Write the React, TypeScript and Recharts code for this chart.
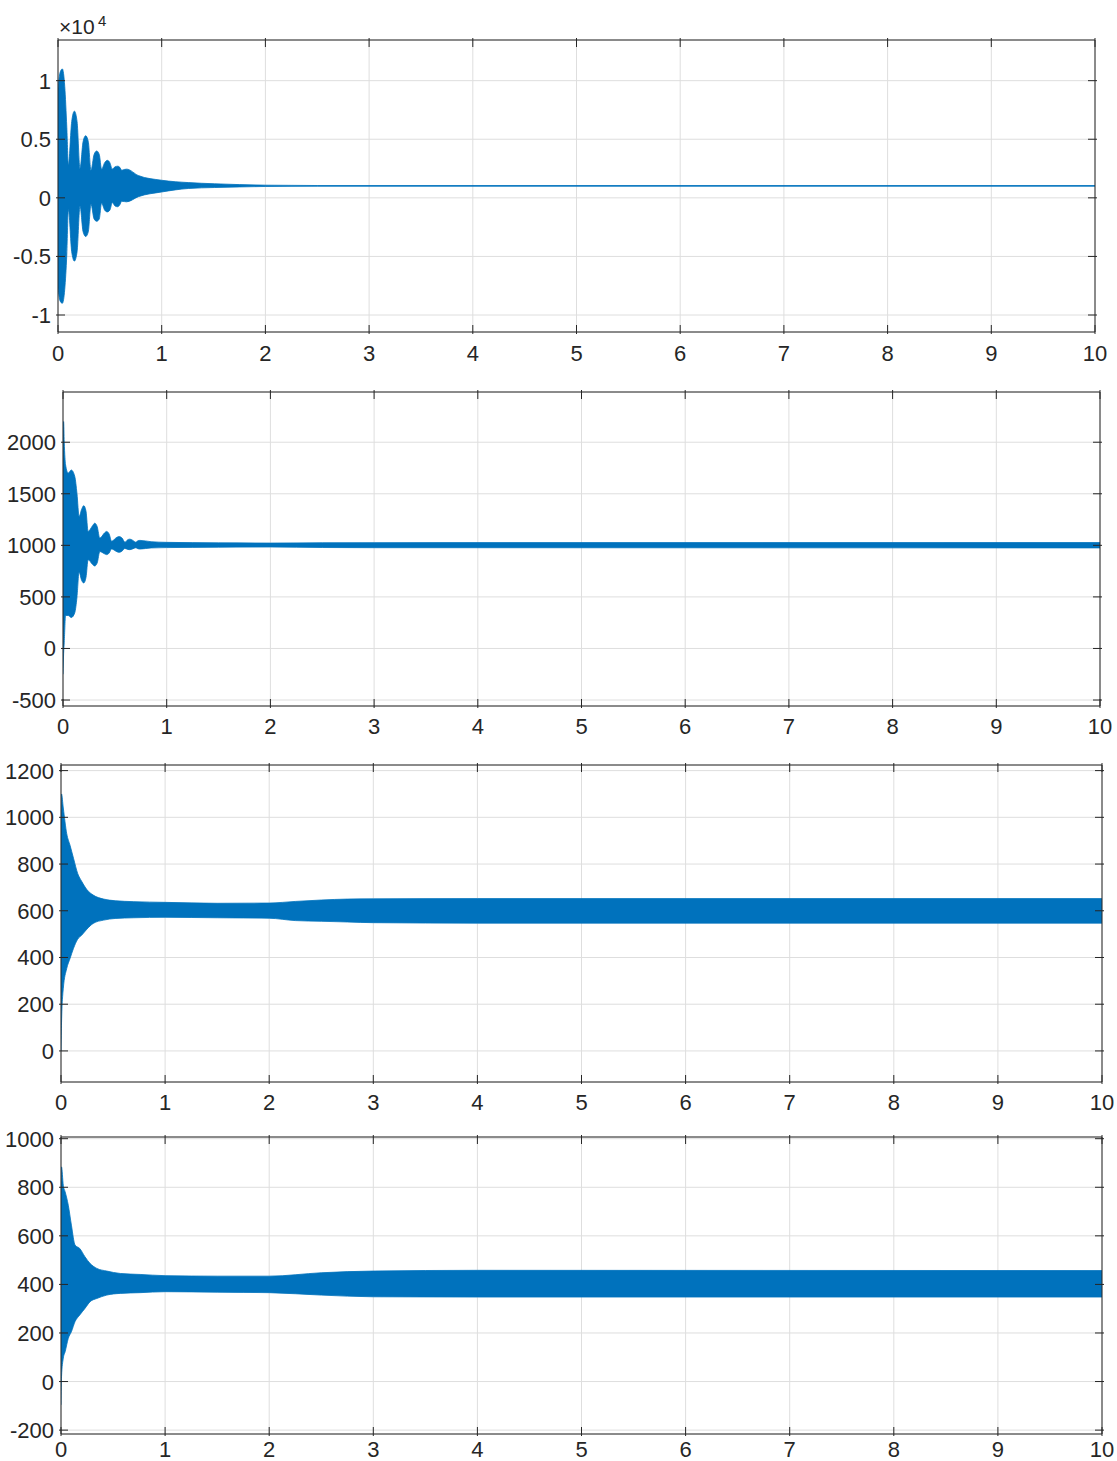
import React from 'react';
import { AreaChart, Area, XAxis, YAxis, CartesianGrid } from 'recharts';

// shared time axis
const xTicks = [0, 1, 2, 3, 4, 5, 6, 7, 8, 9, 10];

// panel 1 (values, shown as x10^4) - envelope of the dense oscillation
const p1Time = [0, 0.02, 0.042, 0.065, 0.085, 0.1, 0.132, 0.158, 0.184, 0.212, 0.242, 0.267, 0.292, 0.318, 0.348, 0.373, 0.398, 0.42, 0.45, 0.476, 0.5, 0.524, 0.55, 0.576, 0.596, 0.614, 0.64, 0.662, 0.775, 1.0, 1.26, 1.51, 1.75, 2.0, 2.5, 10];
const p1Upper = [9300, 10700, 11000, 9500, 6000, 2800, 6500, 7400, 6500, 2500, 4800, 5300, 4800, 2350, 3700, 4000, 3700, 2450, 3000, 3200, 3000, 2450, 2650, 2700, 2600, 2350, 2420, 2450, 1900, 1500, 1300, 1200, 1130, 1080, 1050, 1050];
const p1Lower = [-7700, -8800, -9000, -7800, -4800, -1000, -4600, -5400, -4600, -700, -2900, -3300, -2900, -550, -1800, -2000, -1800, -450, -1050, -1200, -1050, -400, -700, -760, -600, -300, -320, -340, 100, 500, 800, 880, 930, 970, 990, 990];
const p1Ticks = [-10000, -5000, 0, 5000, 10000];

// panel 2
const p2Time = [0, 0.006, 0.012, 0.025, 0.05, 0.08, 0.113, 0.135, 0.155, 0.18, 0.2, 0.222, 0.242, 0.285, 0.306, 0.33, 0.355, 0.4, 0.42, 0.445, 0.468, 0.52, 0.542, 0.57, 0.597, 0.625, 0.645, 0.67, 0.703, 0.722, 0.742, 0.85, 1.0, 1.5, 2.0, 2.5, 3.0, 10];
const p2Upper = [2100, 2200, 2000, 1780, 1700, 1730, 1670, 1500, 1280, 1350, 1385, 1330, 1135, 1190, 1215, 1180, 1070, 1120, 1135, 1110, 1040, 1078, 1085, 1070, 1030, 1055, 1060, 1050, 1030, 1044, 1048, 1035, 1029, 1024, 1022, 1025, 1026, 1027];
const p2Lower = [-250, -50, 60, 320, 320, 300, 345, 500, 740, 660, 635, 690, 860, 815, 800, 830, 940, 918, 910, 925, 965, 938, 932, 945, 970, 960, 958, 965, 977, 967, 964, 975, 978, 982, 984, 979, 977, 975];
const p2Ticks = [-500, 0, 500, 1000, 1500, 2000];

// panel 3
const p3Time = [0, 0.005, 0.022, 0.055, 0.087, 0.12, 0.16, 0.2, 0.25, 0.31, 0.41, 0.52, 0.7, 1.0, 1.5, 2.0, 2.25, 2.5, 2.75, 3.0, 4.0, 10];
const p3Upper = [900, 1100, 1040, 930, 880, 825, 760, 725, 690, 667, 650, 643, 639, 636, 632, 633, 640, 646, 650, 651, 652, 652];
const p3Lower = [0, 120, 267, 353, 396, 439, 478, 496, 522, 546, 560, 567, 570, 572, 570, 568, 558, 555, 552, 549, 547, 547];
const p3Ticks = [0, 200, 400, 600, 800, 1000, 1200];

// panel 4
const p4Time = [0, 0.005, 0.022, 0.04, 0.07, 0.1, 0.135, 0.18, 0.23, 0.28, 0.344, 0.44, 0.57, 0.76, 1.0, 1.5, 2.0, 2.5, 3.0, 4.0, 10];
const p4Upper = [700, 884, 808, 781, 726, 644, 562, 548, 514, 486, 466, 455, 445, 441, 436, 434, 434, 448, 455, 458, 457];
const p4Lower = [-96, 20, 96, 123, 178, 205, 247, 274, 301, 329, 342, 356, 363, 366, 370, 368, 366, 356, 349, 348, 348];
const p4Ticks = [-200, 0, 200, 400, 600, 800, 1000];

const FONT = '"Liberation Sans", Arial, Helvetica, sans-serif';
const INK = '#262626';
const BLUE = '#0072BD';
const TICK_LEN = 9;
const W = 1117;
const H = 1461;

const makeBottomTick = (dy: number) => ({ x, y, payload }: any) => (
  <g>
    <line x1={x} y1={y} x2={x} y2={y - TICK_LEN} stroke={INK} />
    <text x={x} y={y + dy} textAnchor="middle" fontSize={22} fontFamily={FONT} fill={INK}>{payload.value}</text>
  </g>
);

const topTick = ({ x, y }: any) => <line x1={x} y1={y} x2={x} y2={y + TICK_LEN} stroke={INK} />;

const rightTick = ({ x, y }: any) => <line x1={x} y1={y} x2={x - TICK_LEN} y2={y} stroke={INK} />;

const makeLeftTick = (fmt: (v: number) => string) => ({ x, y, payload }: any) => (
  <g>
    <line x1={x} y1={y} x2={x + TICK_LEN} y2={y} stroke={INK} />
    <text x={x - 5} y={y + 8} textAnchor="end" fontSize={22} fontFamily={FONT} fill={INK}>{fmt(payload.value)}</text>
  </g>
);

interface PanelProps {
  left: number; top: number; right: number; bottom: number;
  time: number[]; upper: number[]; lower: number[];
  yDomain: [number, number]; yTicks: number[];
  yFormat?: (v: number) => string;
  labelDy?: number;
  padBottom?: number;
}

function Panel({ left, top, right, bottom, time, upper, lower, yDomain, yTicks, yFormat = (v) => String(v), labelDy = 26, padBottom = 36 }: PanelProps) {
  const data = time.map((t, i) => ({ t, range: [lower[i], upper[i]] }));
  const padTop = 20;
  const h = padTop + (bottom - top) + padBottom;
  return (
    <div style={{ position: 'absolute', left: 0, top: top - padTop }}>
      <AreaChart width={W} height={h} data={data} margin={{ top: padTop - 1, left: 0, right: W - right - 1, bottom: 0 }}>
        <CartesianGrid stroke="#dedede" />
        <XAxis dataKey="t" type="number" domain={[0, 10]} ticks={xTicks} interval={0} height={padBottom}
          tickSize={0} tickLine={false} axisLine={{ stroke: INK }} tick={makeBottomTick(labelDy)} allowDataOverflow />
        <XAxis xAxisId="top" orientation="top" dataKey="t" type="number" domain={[0, 10]} ticks={xTicks} interval={0} height={1}
          tickSize={0} tickLine={false} axisLine={{ stroke: INK }} tick={topTick} allowDataOverflow />
        <YAxis type="number" domain={yDomain} ticks={yTicks} interval={0} width={left}
          tickSize={0} tickLine={false} axisLine={{ stroke: INK }} tick={makeLeftTick(yFormat)} allowDataOverflow />
        <YAxis yAxisId="right" orientation="right" type="number" domain={yDomain} ticks={yTicks} interval={0} width={1}
          tickSize={0} tickLine={false} axisLine={{ stroke: INK }} tick={rightTick} allowDataOverflow />
        <Area dataKey="range" type="monotone" fill={BLUE} fillOpacity={1} stroke={BLUE} strokeWidth={0.8}
          dot={false} activeDot={false} isAnimationActive={false} />
      </AreaChart>
    </div>
  );
}

export default function App() {
  return (
    <div style={{ position: 'absolute', left: 0, top: 0, width: W, height: H, background: '#fff', overflow: 'hidden' }}>
      <svg style={{ position: 'absolute', left: 0, top: 0 }} width={200} height={40}>
        <text x={59} y={34} fontSize={21} fontFamily={FONT} fill={INK}>×10</text>
        <text x={98} y={26} fontSize={15} fontFamily={FONT} fill={INK}>4</text>
      </svg>
      <Panel left={58} top={40} right={1095} bottom={332} time={p1Time} upper={p1Upper} lower={p1Lower}
        yDomain={[-11450, 13470]} yTicks={p1Ticks} yFormat={(v) => String(v / 10000)} labelDy={27} />
      <Panel left={63} top={392} right={1100} bottom={706} time={p2Time} upper={p2Upper} lower={p2Lower}
        yDomain={[-558, 2487]} yTicks={p2Ticks} />
      <Panel left={61} top={765} right={1102} bottom={1082} time={p3Time} upper={p3Upper} lower={p3Lower}
        yDomain={[-133, 1224]} yTicks={p3Ticks} />
      <Panel left={61} top={1137} right={1102} bottom={1434} time={p4Time} upper={p4Upper} lower={p4Lower}
        yDomain={[-216, 1007]} yTicks={p4Ticks} labelDy={21} padBottom={27} />
    </div>
  );
}
